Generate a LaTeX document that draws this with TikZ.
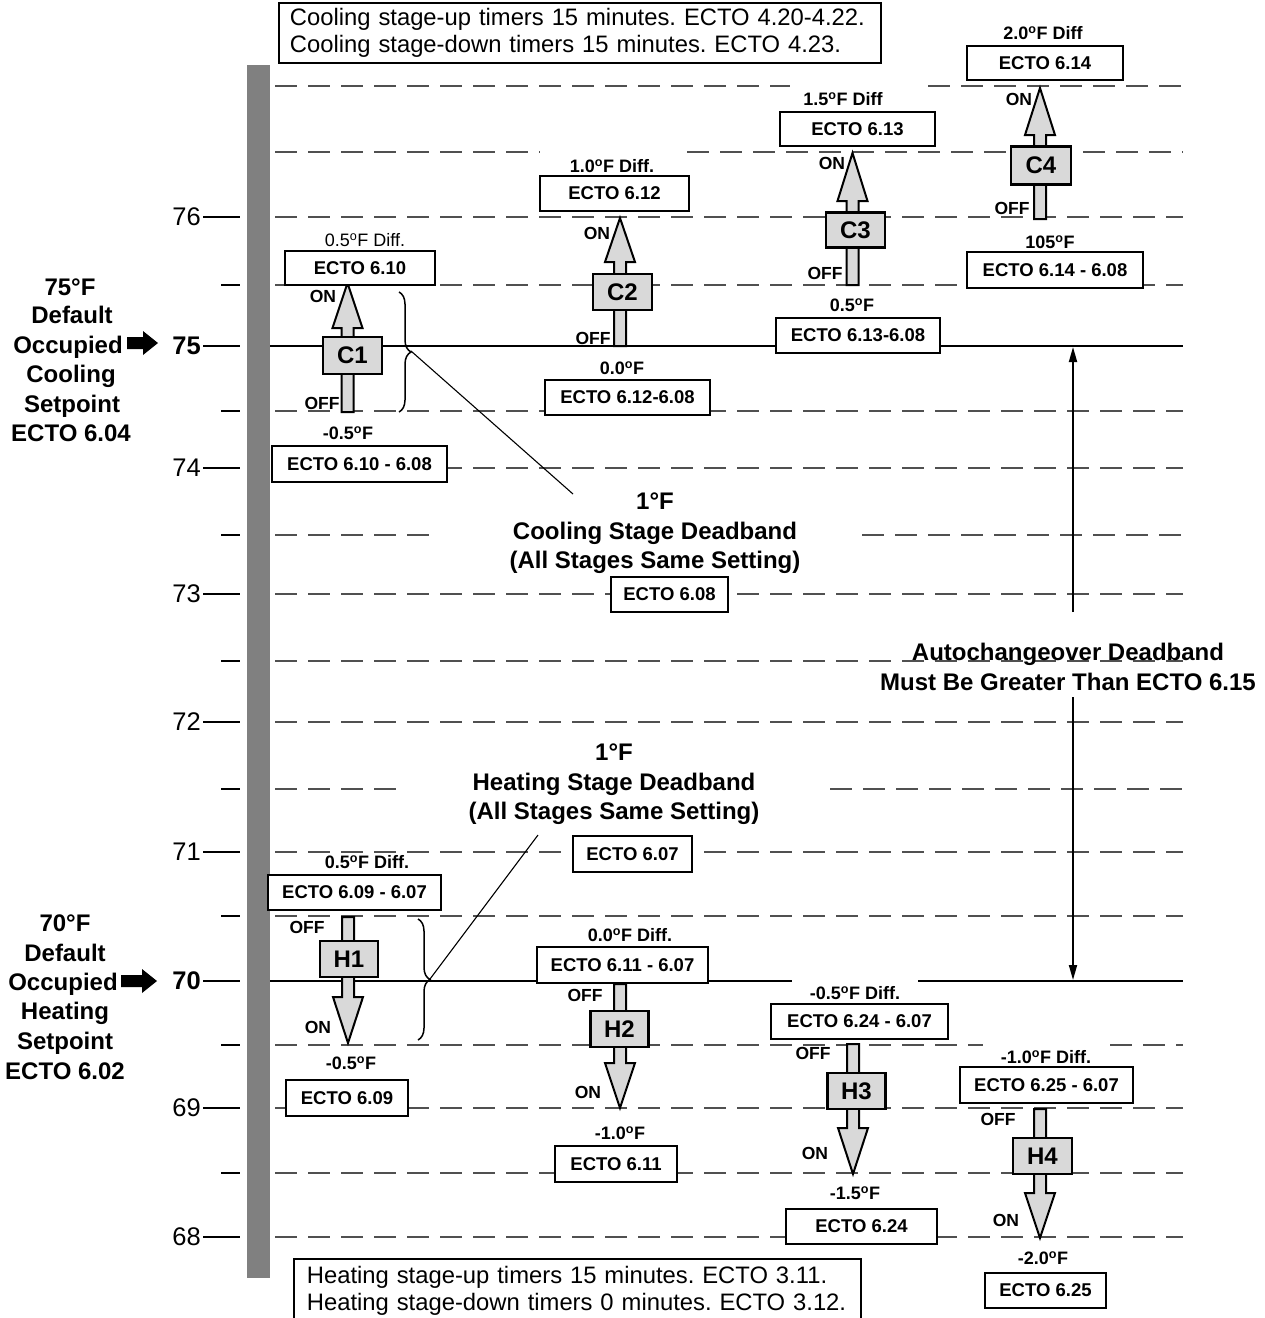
\documentclass[tikz,border=0pt]{standalone}
\usepackage{fontspec}
\setmainfont{Liberation Sans}
\usetikzlibrary{decorations.pathreplacing,arrows.meta}
\definecolor{stagegray}{HTML}{D9D9D9}
\definecolor{bargray}{HTML}{808080}
\definecolor{dashgray}{HTML}{505050}
\newcommand\szbox{\fontsize{18.5}{22}\selectfont\bfseries}
\newcommand\szlbl{\fontsize{18}{22}\selectfont\bfseries}
\newcommand\szlblr{\fontsize{18}{22}\selectfont}
\newcommand\szonoff{\fontsize{17.5}{21}\selectfont\bfseries}
\newcommand\szstage{\fontsize{24}{28}\selectfont\bfseries}
\newcommand\szbig{\fontsize{24}{29.5}\selectfont\bfseries}
\newcommand\szside{\fontsize{24}{29.4}\selectfont\bfseries}
\newcommand\sztimer{\fontsize{23.8}{27.5}\selectfont\frenchspacing}
\newcommand\szaxis{\fontsize{25.5}{30}\selectfont}
\newcommand\degsup{\textsuperscript{o}}
\newcommand\uparr[4]{\draw[arrowshape] (#1-6,#2) -- (#1-6,#3) -- (#1-15,#3) -- (#1,#4) -- (#1+15,#3) -- (#1+6,#3) -- (#1+6,#2) -- cycle;}
\newcommand\dnarr[4]{\draw[arrowshape] (#1-6,#2) -- (#1-6,#3) -- (#1-15,#3) -- (#1,#4) -- (#1+15,#3) -- (#1+6,#3) -- (#1+6,#2) -- cycle;}
\tikzset{
  ectobox/.style={draw, line width=2.4pt, fill=white, inner sep=0pt, font=\szbox},
  stagebox/.style={draw, line width=2.4pt, fill=stagegray, inner sep=0pt, font=\szstage},
  arrowshape/.style={draw, line width=2pt, fill=stagegray, line join=miter},
  dashln/.style={draw=dashgray, line width=1.4pt, dash pattern=on 22pt off 11pt},
  solidln/.style={line width=2.2pt},
  tickln/.style={line width=2.6pt},
  lbl/.style={inner sep=0pt, font=\szlbl},
  onoff/.style={inner sep=0pt, font=\szonoff},
  axlbl/.style={inner sep=0pt, anchor=east, font=\szaxis},
  sidetxt/.style={inner sep=0pt, anchor=base, font=\szside},
  bigtxt/.style={inner sep=0pt, anchor=north, align=center, font=\szbig},
  timerbox/.style={draw, line width=1.8pt, fill=white, inner sep=0pt, anchor=north west, align=left, font=\sztimer},
  bracest/.style={line width=1.5pt, decorate, decoration={brace, amplitude=12pt}},
  leader/.style={line width=1.1pt}
}
\begin{document}
\begin{tikzpicture}[x=1pt,y=-1pt]
\useasboundingbox[fill=white] (0,0) rectangle (1265,1318);

% gray bar
\fill[bargray] (247,65) rectangle (270,1278);

% dashed lines
\foreach \yy in {217,285,411,468,594,661,722,852,916,1108,1173,1237}
  \draw[dashln] (275,\yy) -- (1183,\yy);
\draw[dashln] (275,86) -- (790,86);
\draw[dashln] (928,86) -- (1183,86);
\draw[dashln] (275,152) -- (540,152);
\draw[dashln] (687,152) -- (1183,152);
\draw[dashln] (275,535) -- (440,535);
\draw[dashln] (862,535) -- (1183,535);
\draw[dashln] (275,789) -- (405,789);
\draw[dashln] (830,789) -- (1183,789);
\draw[dashln] (275,1045) -- (983,1045);
\draw[dashln] (1110,1045) -- (1183,1045);

% solid setpoint lines
\draw[solidln] (270,346) -- (1183,346);
\draw[solidln] (270,981) -- (792,981);
\draw[solidln] (918,981) -- (1183,981);

% axis ticks and labels
\foreach \yy/\tt in {217/76,468/74,594/73,722/72,852/71,1108/69,1237/68}{
  \node[axlbl] (ax\tt) at (201,\yy) {\tt};
  \draw[tickln] (ax\tt.east) ++(2,0) -- (240,\yy);
}
\node[axlbl, font=\szaxis\bfseries] (ax75) at (201,346) {75};
\draw[tickln] (ax75.east) ++(2,0) -- (240,346);
\node[axlbl, font=\szaxis\bfseries] (ax70) at (201,981) {70};
\draw[tickln] (ax70.east) ++(2,0) -- (240,981);
\foreach \yy in {285,411,535,661,789,916,1045,1173}
  \draw[tickln] (221,\yy) -- (240,\yy);

% side labels (cooling setpoint)
\node[sidetxt] (cs1) at (70,295.6) {75°F};
\node[sidetxt] (cs2) at (72,323.6) {Default};
\node[sidetxt] (cs3) at (68,353.6) {Occupied};
\node[sidetxt] (cs4) at (71,382.6) {Cooling};
\node[sidetxt] (cs5) at (72,412.6) {Setpoint};
\node[sidetxt] (cs6) at (71,441.6) {ECTO 6.04};
% side labels (heating setpoint)
\node[sidetxt] (hs1) at (65,931.6) {70°F};
\node[sidetxt] (hs2) at (65,961.6) {Default};
\node[sidetxt] (hs3) at (63,990.6) {Occupied};
\node[sidetxt] (hs4) at (65,1019.6) {Heating};
\node[sidetxt] (hs5) at (65,1049.6) {Setpoint};
\node[sidetxt] (hs6) at (65,1079.6) {ECTO 6.02};
\fill (127,337) -- (143,337) -- (143,331) -- (158,343) -- (143,355) -- (143,349) -- (127,349) -- cycle;
\fill (121,975) -- (142,975) -- (142,969) -- (157,981) -- (142,993) -- (142,987) -- (121,987) -- cycle;

% timer boxes
\node[timerbox, minimum width=602pt, minimum height=60pt, text width=580pt] (cooltimer) at (278,2)
  {Cooling stage-up timers 15 minutes. ECTO 4.20-4.22.\\Cooling stage-down timers 15 minutes. ECTO 4.23.};
\node[timerbox, minimum width=567pt, minimum height=64pt, text width=557pt] (heattimer) at (293,1258)
  {\hspace*{8pt}Heating stage-up timers 15 minutes. ECTO 3.11.\\\hspace*{8pt}Heating stage-down timers 0 minutes. ECTO 3.12.};

% stage arrows
\uparr{347.5}{412}{328}{283}
\uparr{620}{346}{262}{218}
\uparr{852.5}{285}{201}{153}
\uparr{1040}{219}{135}{88}
\dnarr{348}{917}{997}{1043}
\dnarr{620}{984}{1063}{1108}
\dnarr{853}{1044}{1128}{1174}
\dnarr{1040}{1109}{1193}{1238}

% stage boxes
\node[stagebox, minimum width=59pt, minimum height=37pt] (C1) at (352.5,355.5) {C1};
\node[stagebox, minimum width=59pt, minimum height=36pt] (C2) at (622.5,292) {C2};
\node[stagebox, minimum width=59pt, minimum height=35pt] (C3) at (855.5,230) {C3};
\node[stagebox, minimum width=60pt, minimum height=38pt] (C4) at (1041,165.5) {C4};
\node[stagebox, minimum width=58pt, minimum height=36pt] (H1) at (349,959) {H1};
\node[stagebox, minimum width=58pt, minimum height=36pt] (H2) at (619.5,1029) {H2};
\node[stagebox, minimum width=58pt, minimum height=36pt] (H3) at (856.5,1091) {H3};
\node[stagebox, minimum width=59pt, minimum height=36pt] (H4) at (1042.5,1156) {H4};

% ECTO boxes
\node[ectobox, minimum width=150pt, minimum height=34pt] (b610) at (360,268) {ECTO 6.10};
\node[ectobox, minimum width=175pt, minimum height=36pt] (b61008) at (359.5,464) {ECTO 6.10 - 6.08};
\node[ectobox, minimum width=149pt, minimum height=35pt] (b612) at (614.5,193.5) {ECTO 6.12};
\node[ectobox, minimum width=165pt, minimum height=35pt] (b61208) at (627.5,397.5) {ECTO 6.12-6.08};
\node[ectobox, minimum width=155pt, minimum height=34pt] (b613) at (857.5,129) {ECTO 6.13};
\node[ectobox, minimum width=164pt, minimum height=35pt] (b61308) at (858,335.5) {ECTO 6.13-6.08};
\node[ectobox, minimum width=156pt, minimum height=34pt] (b614) at (1045,63) {ECTO 6.14};
\node[ectobox, minimum width=176pt, minimum height=36pt] (b61408) at (1055,270) {ECTO 6.14 - 6.08};
\node[ectobox, minimum width=117pt, minimum height=35pt] (b608) at (669.5,594.5) {ECTO 6.08};
\node[ectobox, minimum width=119pt, minimum height=36pt] (b607) at (632.5,854) {ECTO 6.07};
\node[ectobox, minimum width=173pt, minimum height=35pt] (b60907) at (354.5,892.5) {ECTO 6.09 - 6.07};
\node[ectobox, minimum width=122pt, minimum height=36pt] (b609) at (347,1098) {ECTO 6.09};
\node[ectobox, minimum width=171pt, minimum height=36pt] (b61107) at (622.5,965) {ECTO 6.11 - 6.07};
\node[ectobox, minimum width=122pt, minimum height=36pt] (b611) at (616,1164) {ECTO 6.11};
\node[ectobox, minimum width=177pt, minimum height=35pt] (b62407) at (859.5,1021.5) {ECTO 6.24 - 6.07};
\node[ectobox, minimum width=151pt, minimum height=35pt] (b624) at (861.5,1226.5) {ECTO 6.24};
\node[ectobox, minimum width=173pt, minimum height=36pt] (b62507) at (1046.5,1085) {ECTO 6.25 - 6.07};
\node[ectobox, minimum width=121pt, minimum height=35pt] (b625) at (1045.5,1290.5) {ECTO 6.25};

% differential labels
\node[lbl, font=\szlblr] (c1d) at (365,240) {0.5\degsup F Diff.};
\node[lbl] (c1m) at (348,433) {-0.5\degsup F};
\node[lbl] (c2d) at (612,166) {1.0\degsup F Diff.};
\node[lbl] (c2m) at (622,368) {0.0\degsup F};
\node[lbl] (c3d) at (843,99) {1.5\degsup F Diff};
\node[lbl] (c3m) at (852,305) {0.5\degsup F};
\node[lbl] (c4d) at (1043,33) {2.0\degsup F Diff};
\node[lbl] (c4m) at (1050,242) {105\degsup F};
\node[lbl] (h1d) at (367,862) {0.5\degsup F Diff.};
\node[lbl] (h1m) at (351,1063) {-0.5\degsup F};
\node[lbl] (h2d) at (630,935) {0.0\degsup F Diff.};
\node[lbl] (h2m) at (620,1133) {-1.0\degsup F};
\node[lbl] (h3d) at (855,993) {-0.5\degsup F Diff.};
\node[lbl] (h3m) at (855,1193) {-1.5\degsup F};
\node[lbl] (h4d) at (1046,1057) {-1.0\degsup F Diff.};
\node[lbl] (h4m) at (1043,1258) {-2.0\degsup F};

% ON / OFF
\node[onoff] (c1on) at (323,296) {ON};
\node[onoff] (c1off) at (322,403) {OFF};
\node[onoff] (c2on) at (597,233) {ON};
\node[onoff] (c2off) at (593,338) {OFF};
\node[onoff] (c3on) at (832,163) {ON};
\node[onoff] (c3off) at (825,273) {OFF};
\node[onoff] (c4on) at (1019,99) {ON};
\node[onoff] (c4off) at (1012,208) {OFF};
\node[onoff] (h1off) at (307,927) {OFF};
\node[onoff] (h1on) at (318,1027) {ON};
\node[onoff] (h2off) at (585,995) {OFF};
\node[onoff] (h2on) at (588,1092) {ON};
\node[onoff] (h3off) at (813,1053) {OFF};
\node[onoff] (h3on) at (815,1153) {ON};
\node[onoff] (h4off) at (998,1119) {OFF};
\node[onoff] (h4on) at (1006,1220) {ON};

% deadband texts
\node[bigtxt] (cooldb) at (655,493) {1°F\\Cooling Stage Deadband\\(All Stages Same Setting)};
\node[bigtxt] (heatdb) at (614,744) {1°F\\Heating Stage Deadband\\(All Stages Same Setting)};
\node[bigtxt, font=\fontsize{24}{30}\selectfont\bfseries] (autodb) at (1068,643) {Autochangeover Deadband\\Must Be Greater Than ECTO 6.15};

% braces and leaders
\draw[bracest] (399,292) -- (399,412);
\coordinate (cbtip) at (411,351);
\coordinate (cbend) at (573,494);
\draw[leader] (cbtip) -- (cbend);
\draw[bracest] (418,919) -- (418,1040);
\coordinate (hbtip) at (430,979);
\coordinate (hbend) at (538,835);
\draw[leader] (hbtip) -- (hbend);

% autochangeover double arrow
\coordinate (sp75) at (1073,347);
\coordinate (sp70) at (1073,980);
\coordinate (acTop) at (1073,612);
\coordinate (acBot) at (1073,697);
\draw[line width=1.8pt, -{Triangle[length=15pt,width=8pt]}] (acTop) -- (sp75);
\draw[line width=1.8pt, -{Triangle[length=15pt,width=8pt]}] (acBot) -- (sp70);
\end{tikzpicture}
\end{document}
